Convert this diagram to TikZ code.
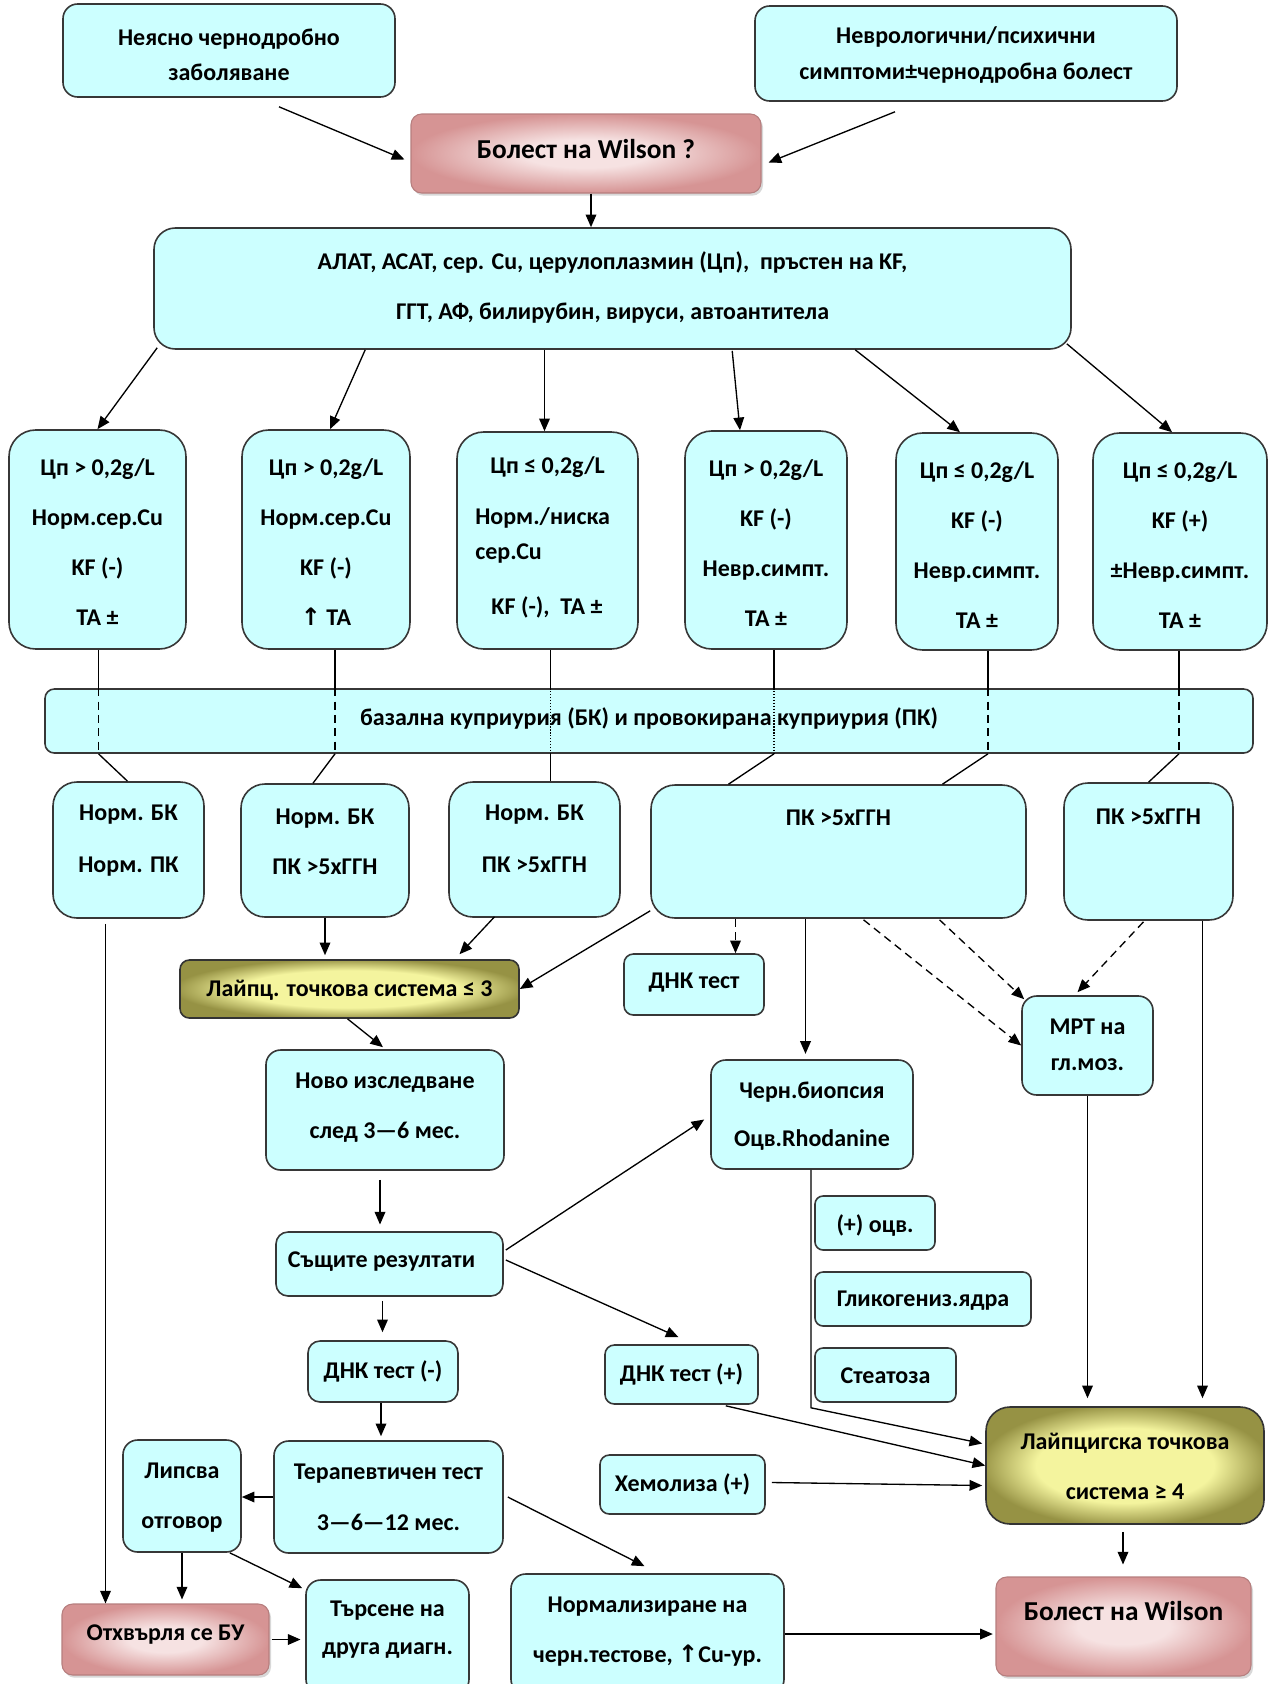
\documentclass[tikz,border=0pt]{standalone}
\usepackage{fontspec}
\usetikzlibrary{arrows.meta,calc,shadows}
\newfontfamily\cf{Carlito}
\newfontfamily\dv{DejaVu Sans}

\definecolor{boxfill}{RGB}{204,255,255}
\definecolor{boxline}{RGB}{55,55,55}
\definecolor{pinkl}{RGB}{246,226,226}
\definecolor{pinkd}{RGB}{214,148,148}
\definecolor{olivel}{RGB}{244,244,158}
\definecolor{olived}{RGB}{150,146,68}

\pgfdeclareradialshading{pinksh}{\pgfpoint{0bp}{0bp}}{color(0bp)=(pinkl); color(9bp)=(pinkl); color(25bp)=(pinkd); color(50bp)=(pinkd)}
\pgfdeclareradialshading{olivesh}{\pgfpoint{0bp}{0bp}}{color(0bp)=(olivel); color(16bp)=(olivel); color(26bp)=(olived); color(50bp)=(olived)}

\tikzset{
  base/.style={rectangle, inner sep=0pt, line width=1.2pt, draw=boxline},
  cyanbox/.style={base, fill=boxfill, rounded corners=#1},
  cyanbox/.default=9pt,
  pinkbox/.style={rectangle, inner sep=0pt, line width=0.8pt, draw=pinkd!85!black,
    shading=pinksh, rounded corners=8pt,
    drop shadow={shadow xshift=1.5pt, shadow yshift=-2pt, fill=black!30}},
  olivebox/.style={base, draw=black!80, shading=olivesh, rounded corners=#1},
  olivebox/.default=8pt,
  txt/.style={font=\cf\bfseries\fontsize{18pt}{#1}\selectfont, align=center, inner sep=0pt, text=black},
  txt/.default=37.5pt,
  ttl/.style={font=\cf\bfseries\fontsize{20.5pt}{25pt}\selectfont},
  arr/.style={-{Triangle[length=9.5pt,width=8pt]}, line width=1pt},
  ln/.style={line width=1pt},
  dsh/.style={line width=1pt, dash pattern=on 6pt off 4pt},
  dot/.style={line width=0.9pt, dash pattern=on 1pt off 1.2pt},
}

% box: name, style, x1, y1, x2, y2, text y, text options, text
\newcommand\bx[9]{%
  \node[#2, minimum width={(#5-#3)*0.75pt}, minimum height={(#6-#4)*0.75pt}]
    (#1) at ({(#3+#5)/2},{(#4+#6)/2}) {};
  \node[txt, #8] (#1-t) at ({(#3+#5)/2},#7) {#9};}

\begin{document}
\begin{tikzpicture}[x=0.75pt, y=-0.75pt]
\useasboundingbox (0,0) rectangle (1270,1684);
\fill[white] (0,0) rectangle (1270,1684);
\clip (0,0) rectangle (1270,1684);

% --- entry points
\bx{top1}{cyanbox=11pt}{63}{4}{395}{97}{54.5}{txt=26pt}{Неясно чернодробно\\заболяване}
\bx{top2}{cyanbox=11pt}{755}{6}{1177}{101}{55}{txt=27pt}{Неврологични/психични\\симптоми±чернодробна болест}
\bx{wq}{pinkbox}{411}{114}{761}{193}{149}{ttl}{Болест на Wilson ?}
\bx{big}{cyanbox=16pt}{154}{228}{1071}{349}{287}{}{АЛАТ, АСАТ, сер. Cu, церулоплазмин (Цп),\ \ пръстен на KF,\\ГГТ, АФ, билирубин, вируси, автоантитела}

% --- six profiles
\bx{A}{cyanbox=20pt}{9}{430}{186}{649}{542}{}{Цп > 0,2g/L\\Норм.сер.Cu\\KF (-)\\ТА ±}
\bx{B}{cyanbox=20pt}{242}{430}{410}{649}{542}{}{Цп > 0,2g/L\\Норм.сер.Cu\\KF (-)\\{\dv\bfseries↑} ТА}
\bx{C}{cyanbox=20pt}{457}{432}{638}{649}{467}{}{Цп ≤ 0,2g/L}
\node[txt=26.25pt, align=left, anchor=west] (C-t2) at (475,535.5) {Норм./ниска\\сер.Cu};
\node[txt] (C-t3) at (547,607) {KF (-),\ \ ТА ±};
\bx{D}{cyanbox=20pt}{685}{431}{847}{649}{543}{}{Цп > 0,2g/L\\KF (-)\\Невр.симпт.\\ТА ±}
\bx{E}{cyanbox=20pt}{896}{433}{1058}{650}{545}{}{Цп ≤ 0,2g/L\\KF (-)\\Невр.симпт.\\ТА ±}
\bx{F}{cyanbox=20pt}{1093}{433}{1267}{650}{545}{}{Цп ≤ 0,2g/L\\KF (+)\\±Невр.симпт.\\ТА ±}

\bx{band}{cyanbox=7pt}{45}{689}{1253}{753}{718}{}{базална куприурия (БК) и провокирана куприурия (ПК)}

% --- cupriuria results
\bx{G}{cyanbox=18pt}{53}{782}{204}{918}{841}{txt=39pt}{Норм. БК\\Норм. ПК}
\bx{H}{cyanbox=18pt}{241}{784}{409}{917}{842}{txt=37.5pt}{Норм. БК\\ПК >5xГГН}
\bx{I}{cyanbox=18pt}{449}{782}{620}{917}{839}{txt=39pt}{Норм. БК\\ПК >5xГГН}
\bx{J}{cyanbox=18pt}{651}{785}{1026}{918}{818}{}{ПК >5xГГН}
\bx{K}{cyanbox=18pt}{1064}{783}{1233}{920}{817}{}{ПК >5xГГН}

% --- follow-up
\bx{L}{olivebox=7pt}{180}{960}{519}{1018}{990}{}{Лайпц. точкова система ≤ 3}
\bx{N}{cyanbox=7pt}{624}{954}{764}{1015}{983}{}{ДНК тест}
\bx{P}{cyanbox=11pt}{1022}{996}{1153}{1095}{1045}{txt=27pt}{МРТ на\\гл.моз.}
\bx{M}{cyanbox=11pt}{266}{1050}{504}{1170}{1107.5}{txt=38pt}{Ново изследване\\след 3—6 мес.}
\bx{O}{cyanbox=11pt}{711}{1060}{913}{1169}{1116}{txt=36pt}{Черн.биопсия\\Оцв.Rhodanine}
\bx{V}{cyanbox=6pt}{815}{1196}{935}{1250}{1226}{}{(+) оцв.}
\bx{W}{cyanbox=6pt}{815}{1272}{1031}{1326}{1301}{}{Гликогениз.ядра}
\bx{X}{cyanbox=6pt}{815}{1348}{956}{1402}{1376}{}{Стеатоза}
\bx{S}{cyanbox=9pt}{276}{1232}{503}{1296}{1262}{xshift=-6pt}{Същите резултати}
\bx{T}{cyanbox=7pt}{605}{1345}{758}{1404}{1374}{}{ДНК тест (+)}
\bx{Y}{cyanbox=9pt}{308}{1341}{458}{1402}{1371}{}{ДНК тест (-)}
\bx{U}{cyanbox=7pt}{600}{1455}{765}{1514}{1484}{}{Хемолиза (+)}
\bx{Q}{olivebox=18pt}{986}{1407}{1264}{1524}{1466}{}{Лайпцигска точкова\\система ≥ 4}
\bx{Z}{cyanbox=11pt}{274}{1441}{503}{1553}{1497.5}{txt=38pt}{Терапевтичен тест\\3—6—12 мес.}
\bx{AA}{cyanbox=11pt}{123}{1440}{241}{1552}{1497.5}{txt=38pt}{Липсва\\отговор}
\bx{BB}{pinkbox}{62}{1604}{269}{1675}{1634}{}{Отхвърля се БУ}
\bx{CC}{cyanbox=11pt}{306}{1580}{469}{1694}{1629.5}{txt=28pt}{Търсене на\\друга диагн.}
\bx{DD}{cyanbox=11pt}{511}{1574}{784}{1694}{1631.5}{txt=38pt}{Нормализиране на\\черн.тестове, {\dv\bfseries↑}Cu-ур.}
\bx{R}{pinkbox}{996}{1577}{1251}{1676}{1611}{ttl}{Болест на Wilson}

% --- connectors: entry
\draw[arr] ($(top1.south)+(50,9)$) -- ($(wq.west)+(-6,6)$);
\draw[arr] ($(top2.south)+(-71,10)$) -- ($(wq.east)+(7,9)$);
\coordinate (w1) at ($(wq.south)+(5,0)$);
\draw[arr] (w1) -- (w1 |- big.north);

% big box to the six profiles
\draw[arr] ($(big.south west)+(4,-2)$) -- (A.north);
\draw[arr] ($(big.south west)+(212,0)$) -- ($(B.north)+(4,0)$);
\coordinate (c0) at ($(C.north)+(-3,0)$);
\draw[arr] (c0 |- big.south) -- (c0);
\draw[arr] ($(big.south west)+(579,1)$) -- ($(D.north)+(-26,0)$);
\draw[arr] ($(big.south west)+(702,0)$) -- ($(E.north)+(-17,0)$);
\draw[arr] ($(big.south east)+(-5,-6)$) -- ($(F.north)+(-8,0)$);

% through the cupriuria band
\coordinate (a1) at ($(A.south)+(1,0)$);
\draw[ln] (a1) -- (a1 |- band.north);
\draw[dsh] (a1 |- band.north) -- (a1 |- band.south);
\draw[ln] (a1 |- band.south) -- ($(G.north)+(-1,0)$);
\coordinate (b1) at ($(B.south)+(9,0)$);
\draw[ln] (b1) -- (b1 |- band.north);
\draw[dsh] (b1 |- band.north) -- (b1 |- band.south);
\draw[ln] (b1 |- band.south) -- ($(H.north)+(-12,0)$);
\coordinate (c1) at ($(C.south)+(3,0)$);
\draw[ln] (c1) -- (c1 |- band.north);
\draw[dot] (c1 |- band.north) -- (c1 |- band.south);
\draw[ln] (c1 |- band.south) -- (c1 |- I.north);
\coordinate (d1) at ($(D.south)+(8,0)$);
\draw[ln] (d1) -- (d1 |- band.north);
\draw[dot] (d1 |- band.north) -- (d1 |- band.south);
\draw[ln] (d1 |- band.south) -- ($(J.north)+(-110,0)$);
\coordinate (e1) at ($(E.south)+(11,0)$);
\draw[ln] (e1) -- (e1 |- band.north);
\draw[dsh] (e1 |- band.north) -- (e1 |- band.south);
\draw[ln] (e1 |- band.south) -- ($(J.north)+(104,0)$);
\coordinate (f1) at ($(F.south)+(-1,0)$);
\draw[ln] (f1) -- (f1 |- band.north);
\draw[dsh] (f1 |- band.north) -- (f1 |- band.south);
\draw[ln] (f1 |- band.south) -- (K.north);

% results to scoring
\coordinate (g1) at ($(G.south)+(-23,5)$);
\draw[arr] (g1) -- (g1 |- BB.north);
\draw[arr, shorten >=3pt] (H.south) -- (H.south |- L.north);
\draw[arr] ($(I.south)+(-40,-1)$) -- ($(L.north)+(110,-5)$);
\draw[arr] ($(J.south west)+(0,-8)$) -- (L.east);
\draw[arr] ($(L.south)+(-2,0)$) -- ($(M.north)+(-2,-2)$);
\coordinate (j1) at ($(J.south)+(-103,0)$);
\draw[arr, dsh] (j1) -- (j1 |- N.north);
\coordinate (j2) at ($(J.south)+(-33,0)$);
\draw[arr, shorten >=4pt] (j2) -- (j2 |- O.north);
\draw[arr, dsh] ($(J.south)+(25,1)$) -- (P.west);
\draw[arr, dsh] ($(J.south)+(101,1)$) -- ($(P.north west)+(3,4)$);
\draw[arr, dsh] ($(K.south)+(-5,1)$) -- ($(P.north)+(-10,-3)$);
\draw[arr, shorten >=6pt] (P.south) -- (P.south |- Q.north);
\coordinate (k1) at ($(K.south)+(54,0)$);
\draw[arr, shorten >=6pt] (k1) -- (k1 |- Q.north);
\coordinate (q1) at ($(Q.south)+(-2,7)$);
\draw[arr, shorten >=9pt] (q1) -- (q1 |- R.north);

% repeat study branch
\coordinate (m1) at ($(M.south)+(-5,9)$);
\draw[arr, shorten >=5pt] (m1) -- (m1 |- S.north);
\draw[arr] ($(S.east)+(2,-14)$) -- ($(O.west)+(-6,5)$);
\draw[arr] ($(S.east)+(2,-4)$) -- ($(T.north)+(-3,-7)$);
\coordinate (o1) at ($(O.south)+(-1,0)$);
\draw[arr] (o1) -- ++(0,238) -- ($(Q.west)+(-3,-22)$);
\draw[arr] ($(T.south east)+(-33,1)$) -- (Q.west);
\draw[arr] ($(U.east)+(6,-2)$) -- ($(Q.west)+(-3,20)$);
\coordinate (s1) at ($(S.south)+(-7,4)$);
\draw[arr, shorten >=6pt] (s1) -- (s1 |- Y.north);
\coordinate (y1) at ($(Y.south)+(-2,0)$);
\draw[arr, shorten >=3pt] (y1) -- (y1 |- Z.north);

% therapeutic test
\draw[arr] (Z.west) -- (Z.west -| AA.east);
\draw[arr, shorten >=3pt] (AA.south) -- (AA.south |- BB.north);
\draw[arr] ($(AA.south east)+(-12,0)$) -- ($(CC.north west)+(-3,9)$);
\coordinate (bb1) at ($(BB.east)+(2,0)$);
\draw[arr, shorten >=3.5pt] (bb1) -- (bb1 -| CC.west);
\draw[arr] ($(Z.east)+(4,0)$) -- ($(DD.north)+(-3,-7)$);
\draw[arr, shorten >=2pt] (DD.east) -- (DD.east -| R.west);
\end{tikzpicture}
\end{document}
